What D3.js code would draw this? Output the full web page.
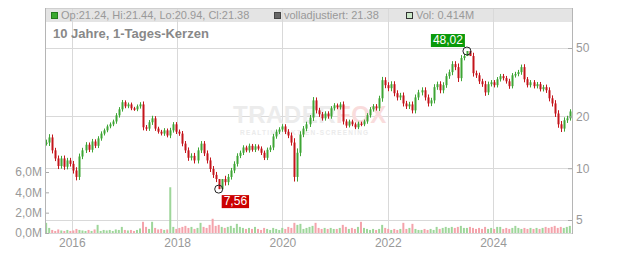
<!DOCTYPE html>
<html>
<head>
<meta charset="utf-8">
<script src="https://cdn.jsdelivr.net/npm/d3@7"></script>
<style>
  body { margin: 0; background: #fff; }
  svg { display: block; font-family: "Liberation Sans", Arial, sans-serif; }
</style>
</head>
<body>
<div id="chart"></div>
<script>
// one sample every 3 weeks, starting July 2015
const startDate = new Date(2015, 6, 7);
const stepDays = 21;

const closes = [
  14.1, 15.1, 12.7, 11.4, 10.3, 11.4, 10.2, 11.1, 10.6, 9.7,
  8.9, 11.7, 12.7, 13.7, 12.8, 14.3, 13.5, 14.9, 15.9, 16.6,
  17.5, 18.0, 18.7, 20.3, 22.0, 24.2, 22.9, 23.5, 22.3, 22.0,
  22.9, 23.5, 17.3, 17.0, 18.5, 19.5, 17.0, 16.3, 15.9, 16.6,
  15.5, 16.6, 18.0, 16.3, 15.9, 13.9, 12.7, 11.5, 11.8, 11.1,
  12.7, 13.9, 12.2, 11.1, 9.9, 9.15, 8.65, 7.56, 8.65, 8.3,
  8.9, 9.7, 10.6, 11.8, 12.3, 13.2, 12.7, 13.5, 12.8, 13.4,
  13.0, 12.3, 11.5, 12.8, 13.2, 15.3, 16.3, 16.8, 17.5, 16.3,
  15.5, 14.1, 8.9, 12.3, 15.7, 17.0, 18.0, 19.7, 24.8, 21.7,
  20.6, 19.5, 20.8, 20.0, 22.3, 23.2, 22.6, 23.5, 18.7, 17.7,
  18.7, 18.0, 17.3, 18.2, 18.0, 18.7, 20.3, 22.0, 22.9, 22.3,
  25.5, 32.5, 30.4, 29.2, 30.8, 27.3, 25.8, 26.5, 23.8, 22.9,
  23.5, 21.7, 25.8, 27.6, 28.4, 25.8, 23.8, 24.8, 29.6, 30.8,
  28.4, 30.4, 34.3, 36.2, 40.3, 38.7, 33.4, 43.7, 44.9, 48.02,
  44.9, 35.7, 34.7, 32.0, 30.8, 27.6, 30.8, 31.6, 30.4, 32.9,
  34.3, 33.4, 32.0, 30.0, 34.7, 35.3, 36.2, 38.7, 32.9, 30.4,
  31.6, 30.0, 30.8, 28.8, 29.6, 28.4, 25.5, 23.8, 20.8, 18.0,
  17.0, 19.0, 19.5, 21.38
];

// high-low spread of each period beyond the body, in percent
const ranges = [
  8, 9, 8, 7, 8, 7, 8, 7, 7, 8,
  9, 8, 7, 7, 6, 7, 6, 6, 6, 5,
  5, 5, 5, 6, 6, 6, 5, 5, 5, 4,
  5, 6, 8, 6, 6, 7, 6, 5, 5, 6,
  5, 7, 6, 6, 6, 7, 7, 8, 7, 8,
  8, 7, 7, 8, 8, 8, 8, 0, 0, 9,
  8, 7, 7, 7, 6, 6, 5, 6, 5, 6,
  5, 6, 6, 6, 6, 7, 6, 6, 6, 6,
  7, 8, 12, 12, 9, 7, 7, 7, 9, 8,
  7, 6, 6, 6, 6, 6, 5, 6, 8, 6,
  5, 5, 5, 5, 5, 5, 6, 6, 6, 6,
  7, 9, 8, 8, 8, 8, 8, 7, 8, 7,
  7, 8, 8, 7, 8, 8, 8, 7, 8, 7,
  8, 8, 7, 7, 8, 8, 10, 8, 6, 0,
  0, 9, 7, 7, 7, 9, 7, 6, 6, 6,
  6, 6, 6, 7, 6, 6, 6, 7, 8, 6,
  6, 6, 6, 6, 6, 7, 8, 8, 9, 9,
  9, 8, 7, 6
];

// volume in millions
const volumes = [
  1.0, 0.5, 0.3, 0.2, 0.35, 0.25, 0.2, 0.3, 0.2, 0.25,
  0.4, 0.3, 0.25, 0.2, 0.3, 0.2, 0.35, 0.8, 0.2, 0.3,
  0.25, 0.3, 0.2, 0.35, 0.3, 0.6, 0.3, 0.25, 0.3, 0.2,
  0.3, 0.45, 1.1, 0.6, 0.4, 1.1, 0.5, 0.35, 0.4, 0.3,
  0.35, 4.5, 0.6, 0.4, 0.5, 0.6, 0.7, 0.5, 0.6, 0.4,
  0.5, 1.0, 0.6, 0.5, 0.8, 1.4, 0.7, 0.8, 0.6, 0.5,
  0.6, 0.7, 0.5, 0.9, 0.6, 0.5, 0.4, 0.5, 0.4, 0.6,
  0.4, 0.3, 0.5, 0.4, 0.3, 0.5, 0.4, 0.3, 0.5, 0.4,
  0.6, 0.5, 1.0, 0.8, 0.9, 0.4, 0.5, 0.6, 0.7, 1.0,
  0.5, 0.4, 0.5, 0.4, 0.5, 0.4, 0.4, 0.5, 0.8, 0.6,
  0.4, 0.5, 0.4, 0.6, 1.1, 0.5, 0.4, 0.3, 0.4, 0.3,
  0.4, 0.8, 0.5, 0.4, 0.3, 0.4, 0.3, 0.4, 1.0, 0.4,
  0.5, 0.9, 0.4, 0.3, 0.3, 0.4, 0.3, 0.4, 0.3, 0.6,
  0.4, 0.5, 0.6, 0.5, 0.6, 0.5, 0.6, 0.7, 0.5, 0.5,
  0.6, 0.5, 0.4, 0.5, 0.4, 0.6, 0.4, 0.5, 0.4, 0.6,
  0.6, 0.4, 0.5, 0.4, 0.5, 0.7, 0.5, 0.4, 0.5, 0.4,
  0.5, 0.4, 0.5, 0.4, 0.5, 0.6, 0.5, 0.6, 0.7, 0.5,
  0.6, 0.5, 0.6, 0.7
];

const priceTicks = [5, 10, 20, 50];
const volumeTicks = [0, 2, 4, 6];
const yearTicks = [2016, 2018, 2020, 2022, 2024];

const lastBar = { op: 21.24, hi: 21.44, lo: 20.94, cl: 21.38 };
const adjustedClose = 21.38;
const lastVolume = 0.414;

const title = '10 Jahre, 1-Tages-Kerzen';

const W = 632, H = 253;
const plotLeft = 45, plotRight = 572, plotTop = 8, plotBottom = 233;

const de = d3.formatLocale({ decimal: ',', thousands: '.', grouping: [3], currency: ['', '€'] });
const fmt2 = de.format('.2f');
const fmt1 = de.format('.1f');

const up = '#3ea535', down = '#c4141b';

const data = closes.map((c, i) => {
  const o = i > 0 ? closes[i - 1] : c;
  return {
    date: d3.timeDay.offset(startDate, i * stepDays),
    open: o,
    close: c,
    high: Math.max(o, c) * (1 + ranges[i] / 200),
    low: Math.min(o, c) * (1 - ranges[i] / 200),
    vol: volumes[i]
  };
});

const x = d3.scaleTime()
  .domain([new Date(2015, 5, 29), new Date(2025, 6, 2)])
  .range([plotLeft, plotRight]);
const y = d3.scaleLog().domain([5, 50]).range([220, 48]);
const yVol = d3.scaleLinear().domain([0, 6]).range([plotBottom, 172]);

const svg = d3.select('#chart').append('svg')
  .attr('width', W).attr('height', H);

// legend band
svg.append('rect')
  .attr('x', plotLeft).attr('y', plotTop)
  .attr('width', plotRight - plotLeft).attr('height', 14)
  .attr('fill', '#e4e4e4');

// grid
const grid = svg.append('g').attr('stroke', '#d9d9d9').attr('stroke-width', 1);
grid.selectAll('.vg')
  .data(yearTicks)
  .enter().append('line')
  .attr('x1', d => Math.round(x(new Date(d, 0, 1))) + 0.5)
  .attr('x2', d => Math.round(x(new Date(d, 0, 1))) + 0.5)
  .attr('y1', plotTop).attr('y2', plotBottom);

grid.selectAll('.hg')
  .data(priceTicks)
  .enter().append('line')
  .attr('x1', plotLeft).attr('x2', plotRight)
  .attr('y1', d => Math.round(y(d)) + 0.5)
  .attr('y2', d => Math.round(y(d)) + 0.5);

// watermark
const wm = svg.append('g').attr('font-weight', 'bold');
const wmText = wm.append('text')
  .attr('x', 233).attr('y', 123)
  .attr('font-size', 24).attr('letter-spacing', 0.5);
wmText.append('tspan').attr('fill', '#ececec').text('TRADER');
wmText.append('tspan').attr('fill', '#f9dcdc').text('FOX');
wm.append('text')
  .attr('x', 240).attr('y', 135)
  .attr('font-size', 6.5).attr('letter-spacing', 1.2)
  .attr('fill', '#ebebeb')
  .text('REALTIME AKTIEN-SCREENING');

// frame
svg.append('line')
  .attr('x1', plotLeft).attr('x2', plotRight).attr('y1', plotTop + 0.5).attr('y2', plotTop + 0.5)
  .attr('stroke', '#cfcfcf');
svg.append('line')
  .attr('x1', plotLeft).attr('x2', plotRight).attr('y1', plotBottom + 0.5).attr('y2', plotBottom + 0.5)
  .attr('stroke', '#d9d9d9');

// volume bars
svg.append('g')
  .selectAll('rect')
  .data(data)
  .enter().append('rect')
  .attr('x', d => x(d.date) - 1)
  .attr('width', 2)
  .attr('y', d => yVol(d.vol))
  .attr('height', d => plotBottom - yVol(d.vol))
  .attr('fill', d => d.close >= d.open ? '#9ed69a' : '#f4a3ab');

// candles
const candle = svg.append('g')
  .selectAll('g')
  .data(data)
  .enter().append('g')
  .attr('fill', d => d.close >= d.open ? up : down)
  .attr('stroke', d => d.close >= d.open ? up : down);

candle.append('line')
  .attr('x1', d => Math.round(x(d.date)) + 0.5)
  .attr('x2', d => Math.round(x(d.date)) + 0.5)
  .attr('y1', d => y(d.high))
  .attr('y2', d => y(d.low))
  .attr('stroke-width', 1);

candle.append('rect')
  .attr('x', d => Math.round(x(d.date)) - 0.5)
  .attr('width', 2)
  .attr('y', d => y(Math.max(d.open, d.close)))
  .attr('height', d => Math.max(1.5, Math.abs(y(d.open) - y(d.close))))
  .attr('stroke', 'none');

// axes
const axisRight = d3.axisRight(y).tickValues(priceTicks).tickSize(0).tickPadding(0)
  .tickFormat(d3.format('d'));
const gR = svg.append('g').attr('transform', `translate(${plotRight},0)`).call(axisRight);
gR.select('.domain').remove();
gR.selectAll('.tick line').remove();
gR.selectAll('.tick').append('line')
  .attr('x1', -4).attr('x2', 0).attr('stroke', '#aaa');
gR.selectAll('.tick text')
  .attr('x', 4).attr('fill', '#999').attr('font-size', 12)
  .attr('font-family', '"Liberation Sans", Arial, sans-serif');

const axisLeft = d3.axisLeft(yVol).tickValues(volumeTicks).tickSize(0).tickPadding(0)
  .tickFormat(d => fmt1(d) + 'M');
const gL = svg.append('g').attr('transform', `translate(${plotLeft},0)`).call(axisLeft);
gL.select('.domain').remove();
gL.selectAll('.tick line').remove();
gL.selectAll('.tick').append('line')
  .attr('x1', 0).attr('x2', 4).attr('stroke', '#aaa');
gL.selectAll('.tick text')
  .attr('x', -3).attr('fill', '#999').attr('font-size', 12)
  .attr('font-family', '"Liberation Sans", Arial, sans-serif');

svg.append('line')
  .attr('x1', plotLeft + 0.5).attr('x2', plotLeft + 0.5).attr('y1', plotTop).attr('y2', plotBottom + 1)
  .attr('stroke', '#b5b5b5');
svg.append('line')
  .attr('x1', plotRight + 0.5).attr('x2', plotRight + 0.5).attr('y1', plotTop).attr('y2', plotBottom + 1)
  .attr('stroke', '#b5b5b5');

const axisBottom = d3.axisBottom(x)
  .tickValues(yearTicks.map(yr => new Date(yr, 0, 1)))
  .tickSize(0).tickPadding(0)
  .tickFormat(d3.timeFormat('%Y'));
const gB = svg.append('g').attr('transform', `translate(0,${plotBottom})`).call(axisBottom);
gB.select('.domain').remove();
gB.selectAll('.tick text')
  .attr('y', 5).attr('fill', '#999').attr('font-size', 12)
  .attr('font-family', '"Liberation Sans", Arial, sans-serif');

// legend
const legend = [
  { sw: '#3aa830', stroke: '#237a1c', text: `Op:${lastBar.op}, Hi:${lastBar.hi}, Lo:${lastBar.lo}, Cl:${lastBar.cl}`, x: 51 },
  { sw: '#666', stroke: '#444', text: `volladjustiert: ${adjustedClose}`, x: 274 },
  { sw: '#cbe8c8', stroke: '#333', text: `Vol: ${lastVolume}M`, x: 406 }
];
const lg = svg.append('g');
lg.selectAll('rect')
  .data(legend)
  .enter().append('rect')
  .attr('x', d => d.x + 0.5).attr('y', 12.5)
  .attr('width', 6).attr('height', 6)
  .attr('fill', d => d.sw).attr('stroke', d => d.stroke);
lg.selectAll('text')
  .data(legend)
  .enter().append('text')
  .attr('x', d => d.x + 10).attr('y', 19)
  .attr('font-size', 11).attr('fill', '#999')
  .text(d => d.text);

svg.append('text')
  .attr('x', 53).attr('y', 38)
  .attr('font-size', 13).attr('font-weight', 'bold').attr('fill', '#888')
  .text(title);

// max / min markers (period high and low)
const maxD = data.reduce((a, b) => (b.high > a.high ? b : a));
const minD = data.reduce((a, b) => (b.low < a.low ? b : a));

const marker = (d, value, boxFill, boxDx, boxDy) => {
  const cx = x(d.date), cy = y(value);
  svg.append('circle')
    .attr('cx', cx).attr('cy', cy).attr('r', 4)
    .attr('fill', 'none').attr('stroke', '#222').attr('stroke-width', 1);
  const g = svg.append('g');
  const t = g.append('text')
    .attr('x', 2).attr('y', 10)
    .attr('font-size', 12).attr('fill', '#fff')
    .text(fmt2(value));
  const w = t.node().getComputedTextLength() + 4;
  g.insert('rect', 'text')
    .attr('width', w).attr('height', 13)
    .attr('fill', boxFill);
  const gx = boxDx < 0 ? cx + boxDx - w : cx + boxDx;
  g.attr('transform', `translate(${gx},${cy + boxDy})`);
};
marker(maxD, maxD.high, '#0a9a0a', -2, -17);
marker(minD, minD.low, '#cc0000', 3, 6);
</script>
</body>
</html>
